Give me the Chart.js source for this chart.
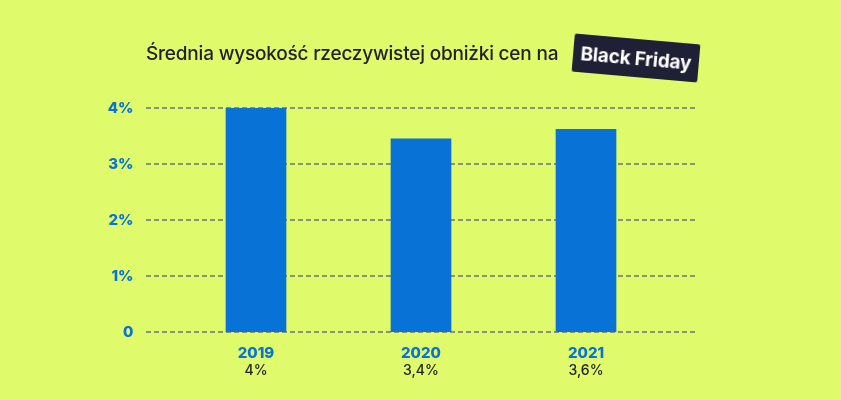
<!DOCTYPE html>
<html>
<head>
<meta charset="utf-8">
<script src="https://cdn.jsdelivr.net/npm/chart.js@4.4.1/dist/chart.umd.min.js"></script>
<style>
  html, body { margin: 0; padding: 0; background: #dffa6b; }
  #wrap { position: relative; width: 841px; height: 400px; overflow: hidden; }
  #title {
    position: absolute; left: 146px; top: 42px;
    font-family: Inter, sans-serif; font-weight: 500; font-size: 19px;
    color: #1f1f2e; white-space: nowrap; letter-spacing: -0.2px;
  }
  #badge {
    position: absolute; left: 573px; top: 39px; width: 126px; height: 38px;
    background: #1f1f35; color: #fff; border-radius: 2px;
    font-family: Inter, sans-serif; font-weight: 700; font-size: 19px;
    letter-spacing: -0.2px;
    display: flex; align-items: center; justify-content: center;
    transform: rotate(5deg);
  }
  canvas { position: absolute; left: 0; top: 0; }
</style>
</head>
<body>
<div id="wrap">
  <canvas id="chart" width="841" height="400"></canvas>
  <div id="title">Średnia wysokość rzeczywistej obniżki cen na</div>
  <div id="badge">Black Friday</div>
</div>
<script>
// Chart data
const years = ['2019', '2020', '2021'];
const discounts = [4, 3.45, 3.62];
const discountLabels = ['4%', '3,4%', '3,6%'];
const yTicks = [0, 1, 2, 3, 4];

const blue = '#0872d6';

// Dashed horizontal grid lines wider than the bar area
const dashedGrid = {
  id: 'dashedGrid',
  beforeDatasetsDraw(chart) {
    const ctx = chart.ctx;
    const y = chart.scales.y;
    ctx.save();
    ctx.strokeStyle = '#8a9470';
    ctx.lineWidth = 2;
    ctx.setLineDash([5, 3]);
    yTicks.forEach(v => {
      const py = Math.round(y.getPixelForValue(v));
      ctx.beginPath();
      ctx.moveTo(146, py);
      ctx.lineTo(695, py);
      ctx.stroke();
    });
    ctx.restore();
  }
};

const ctx = document.getElementById('chart').getContext('2d');
new Chart(ctx, {
  type: 'bar',
  data: {
    labels: years,
    datasets: [{
      data: discounts,
      backgroundColor: blue,
      borderWidth: 0,
      barThickness: 60,
    }],
  },
  options: {
    responsive: false,
    animation: false,
    layout: { padding: { top: 108, right: 172.5, bottom: 18, left: 0 } },
    plugins: {
      legend: { display: false },
      tooltip: { enabled: false },
    },
    scales: {
      x: {
        type: 'category',
        offset: true,
        grid: { display: false, drawTicks: false },
        border: { display: false },
        ticks: {
          color: blue,
          padding: 12,
          font: { family: 'Inter', weight: '800', size: 15 },
        },
        afterFit(scale) { scale.height = 30; },
      },
      x2: {
        type: 'category',
        position: 'bottom',
        labels: discountLabels,
        offset: true,
        grid: { display: false, drawTicks: false },
        border: { display: false },
        ticks: {
          color: '#222222',
          padding: 0,
          font: { family: 'Inter', weight: '500', size: 14 },
        },
        afterFit(scale) { scale.height = 20; },
      },
      y: {
        min: 0,
        max: 4,
        grid: { display: false, drawTicks: false },
        border: { display: false },
        ticks: {
          stepSize: 1,
          padding: 40,
          color: blue,
          font: { family: 'Inter', weight: '800', size: 15 },
          callback: v => v === 0 ? '0' : v + '%',
        },
        afterFit(scale) { scale.width = 173.5; },
      },
    },
  },
  plugins: [dashedGrid],
});
</script>
</body>
</html>
